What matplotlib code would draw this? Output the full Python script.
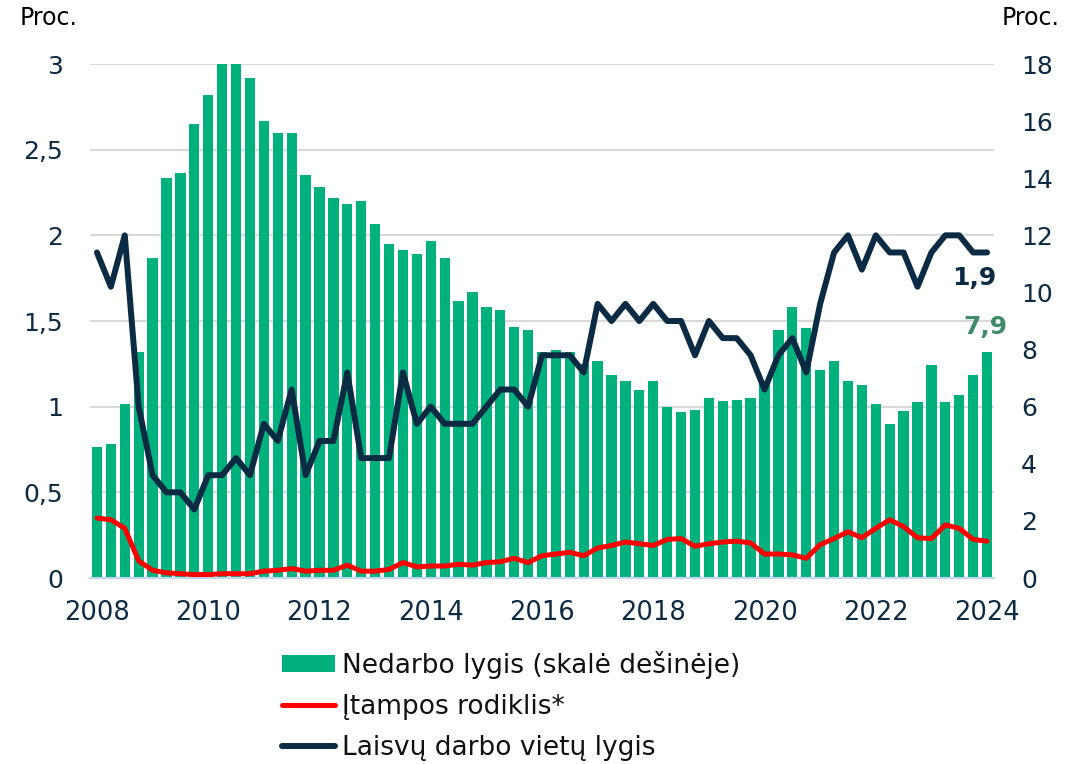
import matplotlib
matplotlib.use('Agg')
import matplotlib.pyplot as plt
from matplotlib.ticker import MultipleLocator, FuncFormatter
import numpy as np

# ---- data (quarterly, 2008 Q1 - 2024 Q1) ----
years = ['2008', '2010', '2012', '2014', '2016', '2018', '2020', '2022', '2024']

unemployment = [4.6, 4.7, 6.1, 7.9, 11.2, 14.0, 14.2, 15.9,
                16.9, 18.0, 18.0, 17.5, 16.0, 15.6, 15.6, 14.1,
                13.7, 13.3, 13.1, 13.2, 12.4, 11.7, 11.5, 11.35,
                11.8, 11.2, 9.7, 10.0, 9.5, 9.4, 8.8, 8.7,
                7.9, 8.0, 7.9, 7.5, 7.6, 7.1, 6.9, 6.6,
                6.9, 6.0, 5.8, 5.9, 6.3, 6.2, 6.25, 6.3,
                6.9, 8.7, 9.5, 8.75, 7.3, 7.6, 6.9, 6.75,
                6.1, 5.4, 5.85, 6.15, 7.45, 6.15, 6.4, 7.1,
                7.9]

tension = [0.35, 0.34, 0.29, 0.10, 0.045, 0.03, 0.025, 0.02,
           0.02, 0.025, 0.025, 0.025, 0.04, 0.045, 0.055, 0.04,
           0.045, 0.045, 0.075, 0.04, 0.04, 0.05, 0.09, 0.065,
           0.07, 0.07, 0.08, 0.075, 0.09, 0.095, 0.115, 0.09,
           0.13, 0.14, 0.15, 0.13, 0.175, 0.19, 0.21, 0.20,
           0.19, 0.225, 0.23, 0.185, 0.20, 0.21, 0.215, 0.205,
           0.14, 0.14, 0.135, 0.115, 0.195, 0.23, 0.27, 0.235,
           0.29, 0.34, 0.30, 0.235, 0.23, 0.31, 0.29, 0.225,
           0.215]

vacancy = [1.9, 1.7, 2.0, 1.0, 0.6, 0.5, 0.5, 0.4,
           0.6, 0.6, 0.7, 0.6, 0.9, 0.8, 1.1, 0.6,
           0.8, 0.8, 1.2, 0.7, 0.7, 0.7, 1.2, 0.9,
           1.0, 0.9, 0.9, 0.9, 1.0, 1.1, 1.1, 1.0,
           1.3, 1.3, 1.3, 1.2, 1.6, 1.5, 1.6, 1.5,
           1.6, 1.5, 1.5, 1.3, 1.5, 1.4, 1.4, 1.3,
           1.1, 1.3, 1.4, 1.2, 1.6, 1.9, 2.0, 1.8,
           2.0, 1.9, 1.9, 1.7, 1.9, 2.0, 2.0, 1.9,
           1.9]

labels = ['Nedarbo lygis (skalė dešinėje)', 'Įtampos rodiklis*', 'Laisvų darbo vietų lygis']

# ---- styles ----
GREEN = '#00B07D'
RED = '#FF0000'
NAVY = '#0B2A44'
LABEL_GREEN = '#3F8B67'
GRID = '#D9D9D9'
TICK_COLOR = '#0B2A44'
plt.rcParams['font.family'] = ['DejaVu Sans']

W, H = 1081, 764
fig = plt.figure(figsize=(W / 100, H / 100), dpi=100)
ax = fig.add_axes([90 / W, 1 - 578 / H, 904 / W, 514 / H])
ax2 = ax.twinx()
ax.set_zorder(2)
ax2.set_zorder(1)
ax.patch.set_visible(False)

x = np.arange(len(unemployment))

# bars on the right axis
bars = ax2.bar(x, unemployment, width=0.74, color=GREEN, zorder=2, label=labels[0])
ax2.set_ylim(0, 18)
ax2.yaxis.set_major_locator(MultipleLocator(2))
ax2.yaxis.set_minor_locator(MultipleLocator(3))
ax2.yaxis.remove_overlapping_locs = False
ax2.grid(which='minor', axis='y', color=GRID, lw=1.5, zorder=0)
ax2.grid(which='major', axis='y', visible=False)
ax2.set_axisbelow(True)

# lines on the left axis
l_red, = ax.plot(x, tension, color=RED, lw=3.6, solid_joinstyle='round',
                 solid_capstyle='round', label=labels[1], zorder=3)
l_navy, = ax.plot(x, vacancy, color=NAVY, lw=4.3, solid_joinstyle='round',
                  solid_capstyle='round', label=labels[2], zorder=4)
ax.set_ylim(0, 3)
ax.set_xlim(-0.5, len(x) - 0.5)
ax.yaxis.set_major_locator(MultipleLocator(0.5))

fmt = FuncFormatter(lambda v, _: ('%g' % v).replace('.', ','))
ax.yaxis.set_major_formatter(fmt)
ax2.yaxis.set_major_formatter(fmt)

ax.set_xticks(x[::8])
ax.set_xticklabels(years)

for a in (ax, ax2):
    for s in a.spines.values():
        s.set_visible(False)
ax.spines['bottom'].set_visible(True)
ax.spines['bottom'].set_color('#BDD7EE')
ax.spines['bottom'].set_linewidth(1.5)

ax.tick_params(axis='y', which='both', length=0, pad=19.5, labelsize=18, labelcolor=TICK_COLOR)
ax2.tick_params(axis='y', which='both', length=0, pad=19.5, labelsize=18, labelcolor=TICK_COLOR)
ax.tick_params(axis='x', length=0, pad=16, labelsize=18.5, labelcolor=TICK_COLOR)

# end-value annotations
ax.annotate(f'{vacancy[-1]:.1f}'.replace('.', ','), xy=(x[-1], vacancy[-1]),
            xytext=(-9, -18.5), textcoords='offset points', ha='center', va='center',
            fontsize=18, fontweight='bold', color=NAVY)
ax2.annotate(f'{unemployment[-1]:.1f}'.replace('.', ','), xy=(x[-1], unemployment[-1]),
             xytext=(-1, 18.5), textcoords='offset points', ha='center', va='center',
             fontsize=18, fontweight='bold', color=LABEL_GREEN)

# axis unit labels
fig.text(49 / W, 1 - 18 / H, 'Proc.', ha='center', va='center', fontsize=17, color='black')
fig.text(1031 / W, 1 - 18 / H, 'Proc.', ha='center', va='center', fontsize=17, color='black')

# legend
fig.legend([bars, l_red, l_navy], labels, loc='upper left',
           bbox_to_anchor=(282 / W, 1 - 651 / H), frameon=False, fontsize=19,
           handlelength=2.0, handletextpad=0.28, labelspacing=0.56, borderpad=0,
           borderaxespad=0, handleheight=0.6, labelcolor='#111111')

fig.savefig('out.png', dpi=100)
